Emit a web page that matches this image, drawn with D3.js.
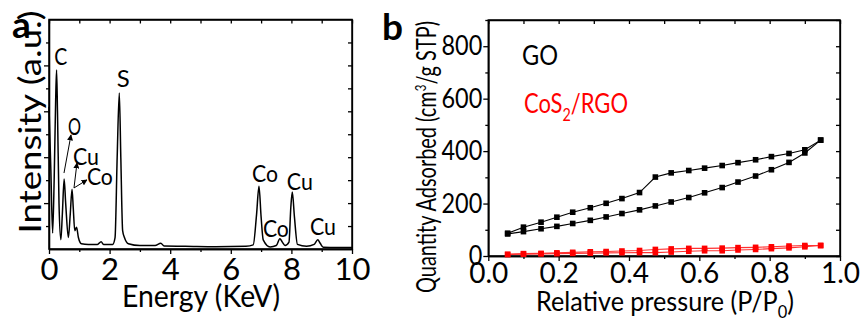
<!DOCTYPE html>
<html>
<head>
<meta charset="utf-8">
<script src="https://cdn.jsdelivr.net/npm/d3@7"></script>
<style>
    body { margin: 0; background: #fff; }
    svg text { font-family: Lato, "Open Sans", sans-serif; fill: #000; }
    .axis path, .axis line { stroke: #000; stroke-width: 1.3; }
</style>
</head>
<body>
<svg id="chart" width="862" height="320"></svg>
<script>
// ---- panel a : EDS spectrum ----
var edsEnergy = [0.00, 0.06, 0.12, 0.17, 0.22, 0.25, 0.28, 0.33, 0.39, 0.44, 0.50, 0.55, 0.64, 0.70, 0.76, 0.80,
    0.85, 0.91, 0.97, 1.07, 1.30, 1.60, 1.72, 1.80, 2.10, 2.18, 2.25, 2.32, 2.37, 2.43, 2.49, 2.62, 3.00,
    3.50, 3.69, 3.80, 4.50, 5.50, 6.50, 6.74, 6.85, 6.93, 7.00, 7.07, 7.30, 7.50, 7.62, 7.70, 7.79, 7.92,
    7.98, 8.03, 8.10, 8.20, 8.50, 8.75, 8.87, 8.95, 9.05, 9.50, 10.00];
var edsIntensity = [62, 35, 7, 30, 65, 78, 60, 20, 4, 15, 30.5, 20, 5, 15, 26, 18,
    8, 9.5, 5, 2.3, 2, 2, 3.2, 2, 2, 5, 40, 68, 40, 8, 5, 2.3, 1.5,
    1.5, 2.5, 1.3, 1.2, 1.0, 1.2, 1.8, 15, 27.3, 14, 4, 0.9, 1.5, 4.5, 3, 1.5, 3,
    18, 24.8, 14, 2, 1.2, 2, 4, 2.5, 0.8, 0.7, 0.7];

// peak labels: text, energy, intensity (baseline-left corner)
var peakLabels = [
    ["C", 0.17, 80], ["S", 2.24, 70.6], ["O", 0.63, 49.7], ["Cu", 0.79, 36.6], ["Co", 1.25, 27.9],
    ["Co", 6.70, 29.2], ["Co", 7.06, 5.2], ["Cu", 7.85, 25.7], ["Cu", 8.61, 6.1]
];
// arrows: from [energy, intensity] to [energy, intensity]
var peakArrows = [
    [[0.495, 33.1], [0.726, 49.7]],
    [[0.825, 26.6], [0.924, 37.5]],
    [[0.825, 26.6], [1.254, 30.1]]
];

// ---- panel b : N2 isotherms ----
var pressure = [0.055, 0.10, 0.15, 0.195, 0.24, 0.29, 0.335, 0.38, 0.43, 0.475,
    0.52, 0.57, 0.615, 0.665, 0.71, 0.76, 0.805, 0.855, 0.90, 0.945];
var goAdsorption = [84, 93, 104, 113, 124, 136, 149, 162, 176, 191,
    206, 223, 241, 261, 282, 305, 329, 357, 393, 442];
var goDesorption = [87, 110, 129, 148, 167, 184, 201, 219, 242, 301,
    317, 326, 335, 345, 356, 367, 379, 391, 405, 442];
var cosAdsorption = [6, 7, 8, 9, 10, 11, 12, 12.5, 13, 13,
    15, 18, 20, 20, 23, 25, 28, 31, 35, 40];
var cosDesorption = [6, 9, 10, 12, 14, 16, 17, 19, 21, 25,
    27, 29, 29, 30, 32, 33, 35, 38, 40, 40];

var svg = d3.select("#chart");

// arrow head
svg.append("defs").append("marker")
    .attr("id", "arrowhead")
    .attr("viewBox", "0 0 10 10")
    .attr("refX", 9)
    .attr("refY", 5)
    .attr("markerWidth", 6)
    .attr("markerHeight", 6)
    .attr("markerUnits", "userSpaceOnUse")
    .attr("orient", "auto")
    .append("path")
    .attr("d", "M0,0 L10,5 L0,10 Z")
    .attr("fill", "#000");

// helper: 4 sided frame with ticks
function frame(g, x, y, xMajor, xMinor, yMajor, yMinor, xFmt, yFmt, xFont, yFont, xPad, yPad) {
    var r = x.range(), h = y.range();
    g.append("g").attr("class", "axis").attr("transform", "translate(0," + h[0] + ")")
        .call(d3.axisBottom(x).tickValues(xMajor).tickSize(5).tickSizeOuter(0).tickPadding(xPad).tickFormat(xFmt))
        .selectAll("text").attr("font-size", xFont);
    g.append("g").attr("class", "axis").attr("transform", "translate(0," + h[0] + ")")
        .call(d3.axisBottom(x).tickValues(xMinor).tickSize(3).tickSizeOuter(0).tickFormat(""));
    var left = g.append("g").attr("class", "axis").attr("transform", "translate(" + r[0] + ",0)")
        .call(d3.axisLeft(y).tickValues(yMajor).tickSize(5).tickSizeOuter(0).tickPadding(yPad).tickFormat(yFmt));
    left.selectAll("text").attr("font-size", yFont);
    g.append("g").attr("class", "axis").attr("transform", "translate(" + r[0] + ",0)")
        .call(d3.axisLeft(y).tickValues(yMinor).tickSize(3).tickSizeOuter(0).tickFormat(""));
    // opposite sides, ticks inward
    g.append("g").attr("class", "axis").attr("transform", "translate(" + r[1] + ",0)")
        .call(d3.axisRight(y).tickValues(yMajor.concat(yMinor)).tickSize(-4).tickSizeOuter(0).tickFormat(""));
    g.append("g").attr("class", "axis").attr("transform", "translate(0," + h[1] + ")")
        .call(d3.axisTop(x).tickValues(xMajor.concat(xMinor)).tickSize(-4).tickSizeOuter(0).tickFormat(""));
    g.append("rect")
        .attr("x", r[0]).attr("y", h[1])
        .attr("width", r[1] - r[0]).attr("height", h[0] - h[1])
        .attr("fill", "none").attr("stroke", "#000").attr("stroke-width", 1.5);
    return left;
}

// ================= panel a =================
var xa = d3.scaleLinear().domain([0, 10]).range([49, 352]);
var ya = d3.scaleLinear().domain([0, 100]).range([249, 19.5]);
var ga = svg.append("g");

frame(ga, xa, ya, [0, 2, 4, 6, 8, 10], [1, 3, 5, 7, 9],
    [20, 40, 60, 80], [10, 30, 50, 70, 90], d3.format("d"), "", 31, 10, 4, 3);

var edsLine = d3.line()
    .x(function(d, i) { return xa(edsEnergy[i]); })
    .y(function(d) { return ya(d); })
    .curve(d3.curveMonotoneX);

ga.append("path")
    .datum(edsIntensity)
    .attr("d", edsLine)
    .attr("fill", "none")
    .attr("stroke", "#000")
    .attr("stroke-width", 1.5)
    .attr("stroke-linejoin", "round");

peakArrows.forEach(function(a) {
    ga.append("line")
        .attr("x1", xa(a[0][0])).attr("y1", ya(a[0][1]))
        .attr("x2", xa(a[1][0])).attr("y2", ya(a[1][1]))
        .attr("stroke", "#000").attr("stroke-width", 1)
        .attr("marker-end", "url(#arrowhead)");
});

ga.selectAll(".peak")
    .data(peakLabels)
    .enter().append("text")
    .attr("class", "peak")
    .attr("x", function(d) { return xa(d[1]); })
    .attr("y", function(d) { return ya(d[2]); })
    .attr("font-size", 24)
    .attr("textLength", function(d) { return d[0].length * 13; })
    .attr("lengthAdjust", "spacingAndGlyphs")
    .text(function(d) { return d[0]; });

ga.append("text")
    .attr("x", 201).attr("y", 307)
    .attr("text-anchor", "middle")
    .attr("font-size", 30)
    .attr("textLength", 158).attr("lengthAdjust", "spacingAndGlyphs")
    .text("Energy (KeV)");

ga.append("text")
    .attr("transform", "translate(41,122) rotate(-90)")
    .attr("text-anchor", "middle")
    .attr("font-size", 30)
    .attr("textLength", 223).attr("lengthAdjust", "spacingAndGlyphs")
    .text("Intensity (a.u.)");

svg.append("text")
    .attr("x", 12).attr("y", 38)
    .attr("font-size", 37).attr("font-weight", "bold")
    .text("a");

// ================= panel b =================
var xb = d3.scaleLinear().domain([0, 1]).range([488.3, 840]);
var yb = d3.scaleLinear().domain([0, 900]).range([256, 20]);
var gb = svg.append("g");

var leftB = frame(gb, xb, yb, [0, 0.2, 0.4, 0.6, 0.8, 1.0], [0.1, 0.3, 0.5, 0.7, 0.9],
    [0, 200, 400, 600, 800], [100, 300, 500, 700, 900], d3.format(".1f"), d3.format("d"), 28, 27, 2, 1);
// narrower digits like the original
leftB.selectAll("text")
    .attr("textLength", function(d) { return String(d).length * 13.6; })
    .attr("lengthAdjust", "spacingAndGlyphs");

var series = [
    { values: goAdsorption, color: "#000", line: "#000" },
    { values: goDesorption, color: "#000", line: "#000" },
    { values: cosAdsorption, color: "#ff0000", line: "#ff3030" },
    { values: cosDesorption, color: "#ff0000", line: "#ff3030" }
];

var isoLine = d3.line()
    .x(function(d, i) { return xb(pressure[i]); })
    .y(function(d) { return yb(d); });

series.forEach(function(s) {
    gb.append("path")
        .datum(s.values)
        .attr("d", isoLine)
        .attr("fill", "none")
        .attr("stroke", s.line)
        .attr("stroke-width", 1.1);
    gb.selectAll(null)
        .data(s.values)
        .enter().append("rect")
        .attr("x", function(d, i) { return xb(pressure[i]) - 2.8; })
        .attr("y", function(d) { return yb(d) - 2.8; })
        .attr("width", 5.6).attr("height", 5.6)
        .attr("fill", s.color);
});

// legend
gb.append("text")
    .attr("x", 522).attr("y", 65)
    .attr("font-size", 26)
    .attr("textLength", 36).attr("lengthAdjust", "spacingAndGlyphs")
    .text("GO");

var leg2 = gb.append("text")
    .attr("x", 524).attr("y", 113)
    .attr("font-size", 26)
    .attr("textLength", 104).attr("lengthAdjust", "spacingAndGlyphs")
    .style("fill", "#ff0000");
leg2.append("tspan").text("CoS");
leg2.append("tspan").attr("font-size", 17).attr("dy", 8).text("2");
leg2.append("tspan").attr("dy", -8).text("/RGO");

// axis titles
var xt = gb.append("text")
    .attr("x", 665).attr("y", 311)
    .attr("text-anchor", "middle")
    .attr("font-size", 26)
    .attr("textLength", 258).attr("lengthAdjust", "spacingAndGlyphs");
xt.append("tspan").text("Relative pressure (P/P");
xt.append("tspan").attr("font-size", 17).attr("dy", 7).text("0");
xt.append("tspan").attr("dy", -7).text(")");

var yt = gb.append("text")
    .attr("transform", "translate(436,157) rotate(-90)")
    .attr("text-anchor", "middle")
    .attr("font-size", 26)
    .attr("textLength", 272).attr("lengthAdjust", "spacingAndGlyphs");
yt.append("tspan").text("Quantity Adsorbed (cm");
yt.append("tspan").attr("font-size", 15).attr("dy", -10).text("3");
yt.append("tspan").attr("dy", 10).text("/g STP)");

svg.append("text")
    .attr("x", 382).attr("y", 40)
    .attr("font-size", 37).attr("font-weight", "bold")
    .text("b");
</script>
</body>
</html>
